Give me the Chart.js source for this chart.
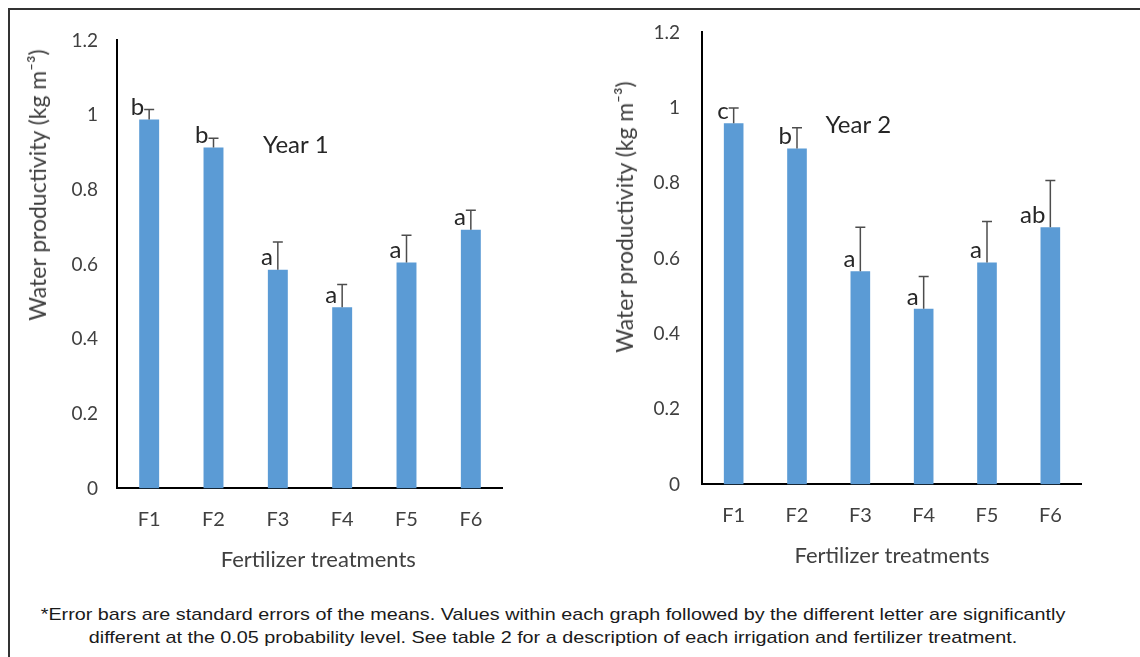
<!DOCTYPE html>
<html>
<head>
<meta charset="utf-8">
<script src="https://cdn.jsdelivr.net/npm/chart.js@4"></script>
<style>
  html, body { margin: 0; padding: 0; background: #fff; }
  body { width: 1140px; height: 657px; position: relative; overflow: hidden; }
  .frame { position: absolute; left: 8px; top: 8px; width: 1140px; height: 660px;
           border-top: 2px solid #333; border-left: 2px solid #333; }
  .box { position: absolute; }
  .ytitle { position: absolute; font-family: Lato, sans-serif; font-size: 23px; color: #404040;
            white-space: nowrap; transform: translate(-50%, -50%) rotate(-90deg); }
  .note { position: absolute; left: 0; width: 1106px; top: 603px; text-align: center;
          font-family: "Liberation Sans", Arial, sans-serif; font-size: 17px; line-height: 23px;
          color: #1a1a1a; transform: scaleX(1.163); transform-origin: 553px 0; }
</style>
</head>
<body>
<div class="frame"></div>
<div class="box" id="box1" style="left:10px;top:20px;width:503px;height:558px"><canvas id="year1"></canvas></div>
<div class="box" id="box2" style="left:590px;top:12px;width:502px;height:557px"><canvas id="year2"></canvas></div>
<div class="ytitle" style="left:37px;top:185px">Water productivity (kg m⁻³)</div>
<div class="ytitle" style="left:624px;top:217px">Water productivity (kg m⁻³)</div>
<div class="note">*Error bars are standard errors of the means. Values within each graph followed by the different letter are significantly<br>different at the 0.05 probability level. See table 2 for a description of each irrigation and fertilizer treatment.</div>
<script>
const treatments = ['F1', 'F2', 'F3', 'F4', 'F5', 'F6'];

// Year 1
const wp1     = [0.988, 0.913, 0.586, 0.485, 0.605, 0.693];
const se1     = [0.027, 0.025, 0.074, 0.061, 0.073, 0.052];
const groups1 = ['b', 'b', 'a', 'a', 'a', 'a'];

// Year 2
const wp2     = [0.959, 0.892, 0.566, 0.466, 0.589, 0.683];
const se2     = [0.040, 0.055, 0.117, 0.086, 0.109, 0.124];
const groups2 = ['c', 'b', 'a', 'a', 'a', 'ab'];

const yTicks = [0, 0.2, 0.4, 0.6, 0.8, 1, 1.2];

const BLUE = '#5B9BD5';
const INK  = '#404040';

// error bars (plus side only) + significance letters + year label
const annot = {
    id: 'annot',
    afterDatasetsDraw(chart, args, o) {
        const ctx = chart.ctx, xs = chart.scales.x, ys = chart.scales.y;
        const vals = chart.data.datasets[0].data;
        ctx.save();
        vals.forEach((v, i) => {
            const x = xs.getPixelForValue(i);
            const y0 = ys.getPixelForValue(v), y1 = ys.getPixelForValue(v + o.se[i]);
            ctx.strokeStyle = '#4d4d4d';
            ctx.lineWidth = 1.5;
            ctx.beginPath();
            ctx.moveTo(x, y0); ctx.lineTo(x, y1);
            ctx.moveTo(x - 5, y1); ctx.lineTo(x + 5, y1);
            ctx.stroke();
            ctx.fillStyle = '#262626';
            ctx.font = '24px Lato';
            ctx.textAlign = 'right';
            ctx.textBaseline = 'middle';
            ctx.fillText(o.letters[i], x - 5, y0 - 12);
        });
        ctx.fillStyle = '#262626';
        ctx.font = '24px Lato';
        ctx.textAlign = 'left';
        ctx.textBaseline = 'middle';
        ctx.fillText(o.year, xs.getPixelForValue(o.yearAt[0]), ys.getPixelForValue(o.yearAt[1]));
        ctx.restore();
    }
};

function mkChart(id, data, se, letters, year, yearAt, yw, tickPad, xTitle) {
    return new Chart(document.getElementById(id), {
        type: 'bar',
        data: {
            labels: treatments,
            datasets: [{ data: data, backgroundColor: BLUE, borderWidth: 0,
                         categoryPercentage: 1, barPercentage: 0.31 }]
        },
        options: {
            responsive: true,
            maintainAspectRatio: false,
            animation: false,
            layout: { padding: 0 },
            plugins: {
                legend: { display: false },
                tooltip: { enabled: false },
                annot: { se: se, letters: letters, year: year, yearAt: yearAt }
            },
            scales: {
                x: {
                    grid: { display: false, drawTicks: false },
                    border: { color: '#000', width: 2 },
                    ticks: { color: INK, font: { family: 'Lato', size: 20 }, padding: 19 },
                    title: { display: true, text: xTitle, color: INK,
                             font: { family: 'Lato', size: 22 }, padding: 0 },
                    afterFit: s => { s.height = 85; }
                },
                y: {
                    min: 0, max: 1.2,
                    afterBuildTicks: s => { s.ticks = yTicks.map(v => ({ value: v })); },
                    grid: { display: false, drawTicks: false },
                    border: { color: '#000', width: 2 },
                    ticks: { color: INK, font: { family: 'Lato', size: 19 }, padding: tickPad,
                             callback: v => String(+v.toFixed(1)) },
                    afterFit: s => { s.width = yw; }
                }
            }
        },
        plugins: [annot]
    });
}

// move the box so the plot area sits where the original one does
function place(chart, box, area) {
    for (let k = 0; k < 3; k++) {
        const ca = chart.chartArea;
        const b = { l: parseFloat(box.style.left), t: parseFloat(box.style.top),
                    w: parseFloat(box.style.width), h: parseFloat(box.style.height) };
        b.l += area.left - (b.l + ca.left);
        b.t += area.top - (b.t + ca.top);
        b.w += (area.right - area.left) - (ca.right - ca.left);
        b.h += (area.bottom - area.top) - (ca.bottom - ca.top);
        Object.assign(box.style, { left: b.l + 'px', top: b.t + 'px', width: b.w + 'px', height: b.h + 'px' });
        chart.resize();
    }
}

// left title sits a little right of centre in the original (em space nudges it)
const c1 = mkChart('year1', wp1, se1, groups1, 'Year 1', [1.77, 0.919], 107, 19, '\u2003Fertilizer treatments');
const c2 = mkChart('year2', wp2, se2, groups2, 'Year 2', [1.45, 0.953], 112, 22, 'Fertilizer treatments');
place(c1, document.getElementById('box1'), { left: 117, top: 40, right: 503, bottom: 488 });
place(c2, document.getElementById('box2'), { left: 702, top: 32, right: 1082, bottom: 484 });
</script>
</body>
</html>
